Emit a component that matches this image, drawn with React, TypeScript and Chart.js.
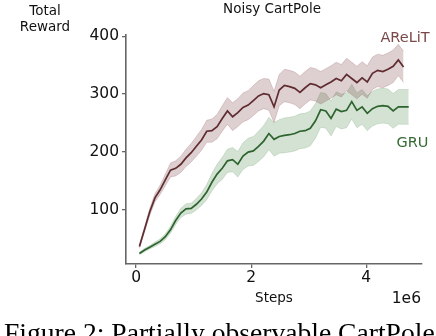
import React, { useEffect, useRef } from "react";
import { Chart, registerables } from "chart.js";

Chart.register(...registerables);

// Environment steps (x, in units of 1e6)
const steps = [
  0.057, 0.147, 0.237, 0.327, 0.417, 0.507, 0.597, 0.687, 0.777, 0.867,
  0.957, 1.047, 1.137, 1.227, 1.317, 1.407, 1.497, 1.587, 1.677, 1.767,
  1.857, 1.947, 2.037, 2.127, 2.217, 2.307, 2.397, 2.487, 2.577, 2.667,
  2.757, 2.847, 2.937, 3.027, 3.117, 3.207, 3.297, 3.387, 3.477, 3.567,
  3.657, 3.747, 3.837, 3.927, 4.017, 4.107, 4.197, 4.287, 4.377, 4.467,
  4.557, 4.647, 4.737,
];

// AReLiT mean total reward and spread
const arelitMean = [
  37, 67, 97, 121, 135, 152, 169, 172, 179, 190,
  199, 210, 221, 236, 237, 244, 258, 271, 261, 268,
  277, 281, 289, 297, 301, 299, 278, 307, 315, 313,
  310, 303, 311, 318, 316, 311, 316, 321, 327, 323,
  334, 327, 320, 328, 321, 336, 341, 339, 343, 348,
  359, 347,
];
const arelitSpread = [
  3, 4, 6, 7, 8, 10, 12, 13, 14, 15,
  16, 17, 18, 19, 20, 21, 22, 23, 24, 24,
  25, 25, 26, 26, 26, 27, 27, 27, 28, 28,
  28, 28, 28, 28, 28, 28, 28, 28, 28, 28,
  28, 28, 28, 28, 28, 28, 28, 28, 28, 28,
  27, 27,
];

// GRU mean total reward and spread
const gruMean = [
  25, 31, 36, 41, 46, 54, 66, 82, 95, 102,
  103, 110, 119, 131, 148, 162, 172, 185, 187, 179,
  193, 200, 202, 210, 219, 232, 222, 227, 229, 230,
  232, 236, 237, 241, 254, 273, 271, 258, 274, 270,
  272, 287, 272, 278, 267, 275, 279, 280, 279, 271,
  278, 278, 278,
];
const gruSpread = [
  2, 3, 3, 4, 4, 5, 6, 7, 8, 9,
  9, 10, 11, 13, 15, 17, 19, 20, 21, 22,
  23, 24, 25, 26, 27, 28, 29, 29, 30, 30,
  30, 30, 30, 30, 30, 30, 30, 30, 30, 30,
  30, 30, 30, 30, 30, 30, 30, 30, 30, 30,
  30, 30, 30,
];

const xTicks = [0, 2, 4];
const yTicks = [100, 200, 300, 400];

const pts = (ys: number[], offs?: number[], sign = 0) =>
  ys.map((y, i) => ({ x: steps[i], y: offs ? y + sign * offs[i] : y }));

const RED = "#5f2c30";
const GREEN = "#2d632d";
const RED_FILL = "rgba(125,62,68,0.25)";
const GREEN_FILL = "rgba(60,125,60,0.22)";

const textPlugin = {
  id: "texts",
  afterDraw(chart: any) {
    const ctx = chart.ctx as CanvasRenderingContext2D;
    ctx.save();
    const f = (s: number) => `${s}px "DejaVu Sans"`;
    ctx.textBaseline = "alphabetic";
    ctx.fillStyle = "#111";
    ctx.textAlign = "center";
    ctx.font = f(13.5);
    ctx.fillText("Noisy CartPole", 272, 12.7);
    ctx.fillText("Total", 45, 15);
    ctx.fillText("Reward", 45, 30.7);
    ctx.fillText("Steps", 274, 301.7);
    ctx.font = f(15.5);
    ctx.textAlign = "right";
    ctx.fillText("1e6", 421, 302.7);
    ctx.textAlign = "center";
    ctx.font = f(14.5);
    ctx.fillStyle = "#7a4848";
    ctx.fillText("AReLiT", 405, 41.7);
    ctx.fillStyle = "#356a35";
    ctx.fillText("GRU", 412.5, 146.7);
    ctx.fillStyle = "#000";
    ctx.textAlign = "left";
    ctx.font = '27.6px "Liberation Serif"';
    ctx.fillText("Figure 2: Partially observable CartPole", 4, 342);
    ctx.restore();
  },
};

export default function App() {
  const ref = useRef<HTMLCanvasElement | null>(null);
  useEffect(() => {
    if (!ref.current) return;
    const tickFont = { family: "DejaVu Sans", size: 15.5 };
    const chart = new Chart(ref.current, {
      type: "line",
      data: {
        datasets: [
          { data: pts(arelitMean), borderColor: RED, borderWidth: 1.7, pointRadius: 0, fill: false },
          { data: pts(gruMean), borderColor: GREEN, borderWidth: 1.7, pointRadius: 0, fill: false },
          { data: pts(arelitMean, arelitSpread, 1), borderColor: RED_FILL, borderWidth: 0.8, pointRadius: 0, fill: false },
          { data: pts(arelitMean, arelitSpread, -1), borderColor: RED_FILL, borderWidth: 0.8, pointRadius: 0, fill: { target: 2 }, backgroundColor: RED_FILL },
          { data: pts(gruMean, gruSpread, 1), borderColor: GREEN_FILL, borderWidth: 0.8, pointRadius: 0, fill: false },
          { data: pts(gruMean, gruSpread, -1), borderColor: GREEN_FILL, borderWidth: 0.8, pointRadius: 0, fill: { target: 4 }, backgroundColor: GREEN_FILL },
        ],
      },
      options: {
        animation: false,
        responsive: false,
        devicePixelRatio: 1,
        layout: { padding: { left: 0, right: 14, top: 35, bottom: 0 } },
        plugins: { legend: { display: false }, tooltip: { enabled: false }, title: { display: false } },
        elements: { point: { radius: 0 }, line: { tension: 0 } },
        scales: {
          x: {
            type: "linear",
            min: -0.176,
            max: 4.968,
            afterBuildTicks: (s: any) => {
              s.ticks = xTicks.map((v) => ({ value: v }));
            },
            afterFit: (s: any) => {
              s.height = 72;
            },
            ticks: { font: tickFont, color: "#111", padding: 1, callback: (v: any) => String(v) },
            grid: { drawOnChartArea: false, drawTicks: true, tickLength: 4, color: "#666", lineWidth: 1.3 },
            border: { display: true, color: "#666", width: 1.6 },
          },
          y: {
            type: "linear",
            min: 7,
            max: 402,
            afterBuildTicks: (s: any) => {
              s.ticks = yTicks.map((v) => ({ value: v }));
            },
            afterFit: (s: any) => {
              s.width = 126;
            },
            ticks: { font: tickFont, color: "#111", padding: 3, callback: (v: any) => String(v) },
            grid: { drawOnChartArea: false, drawTicks: true, tickLength: 4, color: "#666", lineWidth: 1.3 },
            border: { display: true, color: "#666", width: 1.6 },
          },
        },
      },
      plugins: [textPlugin],
    } as any);
    return () => chart.destroy();
  }, []);
  return (
    <div style={{ position: "fixed", left: 0, top: 0, width: 436, height: 336, background: "#fff" }}>
      <canvas ref={ref} width={436} height={336} style={{ display: "block", width: 436, height: 336 }} />
    </div>
  );
}
